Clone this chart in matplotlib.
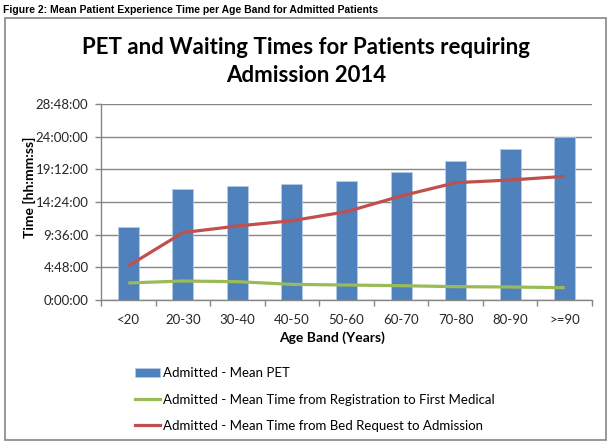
import numpy as np
import matplotlib.pyplot as plt
from matplotlib.patches import Rectangle, Patch
from matplotlib.lines import Line2D

# values in hours
age_bands = ['<20', '20-30', '30-40', '40-50', '50-60', '60-70', '70-80', '80-90', '>=90']
mean_pet = [10.68, 16.26, 16.8, 17.0, 17.48, 18.85, 20.47, 22.23, 23.9]
reg_to_medical = [2.5, 2.79, 2.69, 2.3, 2.2, 2.1, 1.96, 1.91, 1.81]
bed_to_admission = [5.0, 9.9, 10.87, 11.65, 12.98, 15.28, 17.24, 17.63, 18.17]
yticks_h = [0, 4.8, 9.6, 14.4, 19.2, 24.0, 28.8]

c_bar = '#4F81BD'
c_green = '#9BBB59'
c_red = '#C0504D'
c_grid = '#868686'
font = 'Lato'

def hms(h):
    total = int(round(h * 3600))
    return '%d:%02d:%02d' % (total // 3600, (total % 3600) // 60, total % 60)

fig = plt.figure(figsize=(6.12, 4.44), dpi=100)
ax = fig.add_axes([101/612, 1-300/444, (592-101)/612, (300-104)/444])

x = np.arange(len(age_bands))
ax.bar(x, mean_pet, width=0.385, color=c_bar, edgecolor='#B9CDE5', linewidth=0.5, zorder=2)
ax.plot(x, reg_to_medical, color=c_green, lw=2.3, zorder=3, solid_capstyle='butt')
ax.plot(x, bed_to_admission, color=c_red, lw=2.3, zorder=4, solid_capstyle='butt')

ax.set_xlim(-0.5, len(age_bands) - 0.5)
ax.set_ylim(0, 28.8)
ax.set_yticks(yticks_h)
ax.set_yticklabels([hms(v) for v in yticks_h], fontname=font, fontsize=9.5, color='#262626')
ax.set_xticks(x)
ax.set_xticklabels(age_bands, fontname=font, fontsize=9.5, color='#262626')
ax.set_xticks(np.arange(-0.5, len(age_bands)), minor=True)
ax.tick_params(axis='x', which='major', length=0, pad=10)
ax.tick_params(axis='x', which='minor', length=4, color=c_grid, width=1)
ax.tick_params(axis='y', length=4, color=c_grid, width=1, pad=5)
ax.yaxis.grid(True, color=c_grid, lw=1, zorder=0)
ax.set_axisbelow(True)
for s in ['top', 'right']:
    ax.spines[s].set_visible(False)
for s in ['left', 'bottom']:
    ax.spines[s].set_color(c_grid)
    ax.spines[s].set_linewidth(1)

fig.text(332/612, 1-338/444, 'Age Band (Years)', ha='center', va='center',
         fontname=font, fontsize=10, fontweight='bold')
fig.text(29/612, 1-187/444, 'Time [hh:mm:ss]', ha='center', va='center', rotation=90,
         fontname=font, fontsize=10, fontweight='bold')

fig.text(306/612, 1-48/444, 'PET and Waiting Times for Patients requiring', ha='center',
         va='center', fontname=font, fontsize=16, fontweight='bold')
fig.text(306/612, 1-75/444, 'Admission 2014', ha='center', va='center',
         fontname=font, fontsize=16, fontweight='bold')

fig.text(3/612, 1-10/444, 'Figure 2: Mean Patient Experience Time per Age Band for Admitted Patients',
         ha='left', va='center', fontname='Liberation Sans', fontsize=7.5, fontweight='bold')

fig.patches.append(Rectangle((4.5/612, 1-440/444), (605.7-4.5)/612, (440-18.5)/444,
                             transform=fig.transFigure, fill=False, edgecolor=c_grid, lw=1.2))

handles = [Patch(facecolor=c_bar, edgecolor='#B9CDE5', lw=0.5),
           Line2D([], [], color=c_green, lw=2.3),
           Line2D([], [], color=c_red, lw=2.3)]
labels = ['Admitted - Mean PET',
          'Admitted - Mean Time from Registration to First Medical',
          'Admitted - Mean Time from Bed Request to Admission']
fig.legend(handles, labels, loc='upper left', bbox_to_anchor=(135/612, 1-367/444),
           frameon=False, borderpad=0, borderaxespad=0, handlelength=1.9, handletextpad=0.2,
           labelspacing=1.1, prop={'family': font, 'size': 9.5})

fig.savefig('out.png', dpi=100)
